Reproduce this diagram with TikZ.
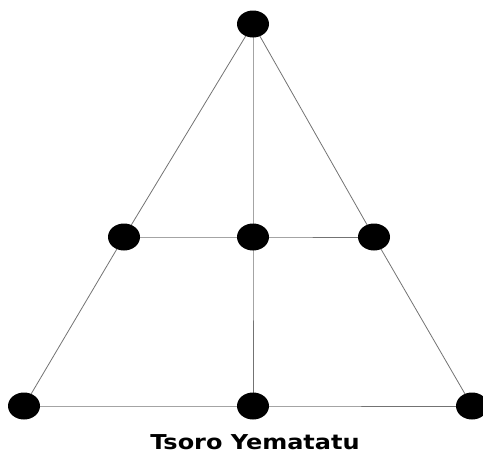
\documentclass[tikz,border=0pt]{standalone}
\usepackage{fontspec}
\setmainfont{DejaVu Sans}
\usetikzlibrary{shapes.geometric,backgrounds}
\begin{document}
\begin{tikzpicture}[x=1pt,y=-1pt,
  dot/.style={ellipse,fill=black,draw=none,minimum width=32pt,minimum height=27pt,inner sep=0pt},
  edge/.style={draw=black!55,line width=0.8pt}]
\useasboundingbox (0,0) rectangle (483,455);
\node[dot] (t) at (253,24) {};
\node[dot] (ml) at (124,237) {};
\node[dot] (mc) at (253,237) {};
\node[dot] (mr) at (374,237) {};
\node[dot] (bl) at (24,406) {};
\node[dot] (bc) at (253,406) {};
\node[dot] (br) at (472,406) {};
\begin{scope}[on background layer]
\draw[edge] (t.center) -- (ml.center) -- (bl.center);
\draw[edge] (t.center) -- (mr.center) -- (br.center);
\draw[edge] (t.center) -- (mc.center) -- (bc.center);
\draw[edge] (ml.center) -- (mc.center) -- (mr.center);
\draw[edge] (bl.center) -- (bc.center) -- (br.center);
\end{scope}
\node[font=\bfseries\fontsize{20.5}{24}\selectfont,anchor=base,inner sep=0pt] (lbl) at (255,449) {\scalebox{1.17}[1]{Tsoro Yematatu}};
\end{tikzpicture}
\end{document}
